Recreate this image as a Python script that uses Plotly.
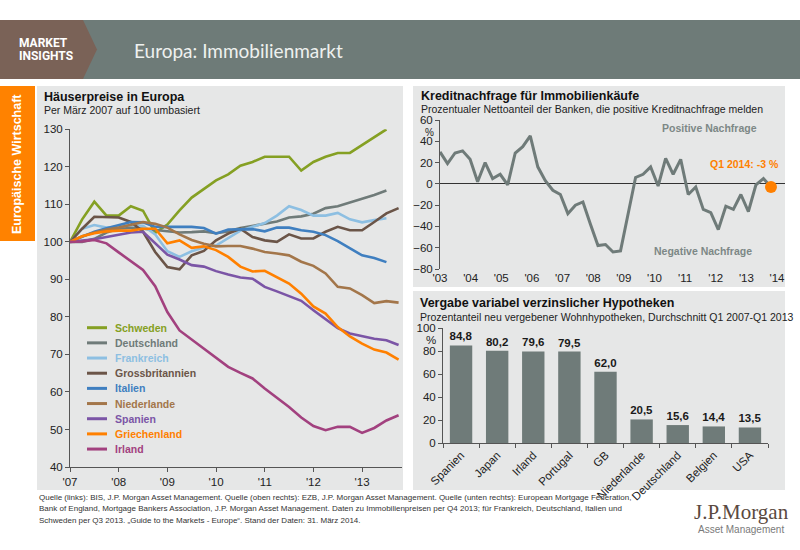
import plotly.graph_objects as go

W, H = 800, 550
def X(px): return px / W
def Y(py): return 1 - py / H

FONT = "Liberation Sans"

# ---------------- Data: Häuserpreise (quarterly, Q1 2007 = 100) ----------------
hp_start_year = 2007
series_names = ["Schweden", "Deutschland", "Frankreich", "Grossbritannien", "Italien",
                "Niederlande", "Spanien", "Griechenland", "Irland"]
series_colors = ["#85a023", "#6f7b79", "#8dbfe2", "#6b5548", "#3f7fc0",
                 "#a3764a", "#7b55a6", "#ff8000", "#a2417f"]

schweden = [100, 106, 110.7, 107, 107, 109.5, 108.3, 102.4, 104.6, 108.4, 111.8, 114.2, 116.4,
            118, 120.3, 121.3, 122.7, 122.7, 122.7, 119, 121.3, 122.7, 123.7, 123.7, 125.8, 128, 130]
deutschland = [100, 100, 100.8, 102.5, 103.5, 103.8, 103.5, 103.2, 103.0, 102.5, 102.6, 102.8,
               102.3, 102.8, 103.7, 104.3, 105, 105.4, 106.5, 106.8, 107.5, 109, 109.5, 110.5,
               111.3, 112.5, 113.7]
frankreich = [100, 103.5, 104.5, 103.8, 104, 104.5, 104.3, 102, 97.5, 96, 97.5, 98.5, 99, 101,
              103, 104, 105, 107, 109.5, 108.5, 107, 107, 107.7, 106, 105.2, 105.8, 106.3]
grossbritannien = [100, 103.5, 106.7, 106.5, 106.5, 105.3, 102.7, 97.3, 93.3, 92.7, 96.4, 97.6,
                   100.4, 102.2, 103.5, 101.3, 100.4, 100, 102, 100.9, 100.9, 102.7, 104, 103.1,
                   103.1, 105.3, 107.6, 109]
italien = [100, 101.3, 102.7, 103.6, 104.4, 105.3, 105.2, 104, 104, 104, 104, 103.7, 102.2,
           103.3, 103.4, 103.4, 102.8, 103.8, 103.8, 103.1, 102.7, 101.8, 100.2, 98.2, 96.4,
           95.7, 94.6]
niederlande = [100, 101.5, 102.5, 103.3, 103.8, 104.5, 105.3, 104.8, 103.8, 102, 100.5, 99.5,
               98.8, 98.9, 98.9, 98.2, 97.3, 96.9, 96.4, 94.7, 93.6, 91.6, 88, 87.6, 85.8, 83.7,
               84.2, 83.8]
spanien = [100, 100.3, 100.7, 101.3, 101.8, 102.5, 102.7, 99.6, 96.6, 95.3, 93.8, 93.4, 92.2,
           91.3, 90.5, 90.2, 88, 86.8, 85.6, 84.3, 81.8, 79.3, 77, 75.6, 74.9, 74.2, 73.8, 72.5]
griechenland = [100, 101.5, 102.3, 102.8, 103, 103, 103.5, 103.5, 99.6, 100.4, 98.4, 98.8, 97.8,
                96, 93.4, 92.1, 92.3, 90.7, 88.9, 86.2, 82.8, 80.9, 77.3, 74.8, 72.9, 71.3,
                70.5, 68.6]
irland = [100, 100.1, 100.5, 99.6, 97.2, 94.8, 92.5, 88.2, 81.3, 76.4, 74, 71.6, 69.3, 66.7,
          65.1, 63.6, 60.9, 58.5, 56, 53.2, 50.9, 49.8, 50.7, 50.7, 49.1, 50.4, 52.4, 53.8]
series_values = [schweden, deutschland, frankreich, grossbritannien, italien,
                 niederlande, spanien, griechenland, irland]
hp_tick_years = [2007, 2008, 2009, 2010, 2011, 2012, 2013]
hp_tick_labels = ["'07", "'08", "'09", "'10", "'11", "'12", "'13"]

# ---------------- Data: Kreditnachfrage (quarterly) ----------------
kn_start_year = 2003
kredit = [30, 19, 29, 31, 23, 2, 20, 5, 9, -1, 29, 35, 45, 16, 3, -6, -10, -28, -20, -17,
          -38, -58, -57, -64, -63, -28, 6, 9, 16, -2, 24, 9, 23, -10, -3, -24, -27, -43, -21,
          -24, -10, -26, -1, 5, -3]
kn_tick_years = list(range(2003, 2015))
kn_tick_labels = ["'03", "'04", "'05", "'06", "'07", "'08", "'09", "'10", "'11", "'12", "'13", "'14"]

# ---------------- Data: variabel verzinsliche Hypotheken ----------------
hyp_countries = ["Spanien", "Japan", "Irland", "Portugal", "GB", "Niederlande",
                 "Deutschland", "Belgien", "USA"]
hyp_values = [84.8, 80.2, 79.6, 79.5, 62.0, 20.5, 15.6, 14.4, 13.5]

# ---------------- Figure ----------------
fig = go.Figure()

for name, color, vals in zip(series_names, series_colors, series_values):
    xs = [hp_start_year + i / 4 for i in range(len(vals))]
    fig.add_trace(go.Scatter(x=xs, y=vals, mode="lines", name=name,
                             line=dict(color=color, width=2.6),
                             xaxis="x", yaxis="y", showlegend=False, hoverinfo="skip"))

kx = [kn_start_year + i * 0.2455 for i in range(len(kredit))]
fig.add_trace(go.Scatter(x=kx, y=kredit, mode="lines",
                         line=dict(color="#6f7b79", width=3),
                         xaxis="x2", yaxis="y2", showlegend=False))
fig.add_trace(go.Scatter(x=[kx[-1]], y=[kredit[-1]], mode="markers",
                         marker=dict(color="#ff8000", size=12),
                         xaxis="x2", yaxis="y2", showlegend=False))

fig.add_trace(go.Bar(x=hyp_countries, y=hyp_values,
                     text=["<b>" + f"{v:.1f}".replace(".", ",") + "</b>" for v in hyp_values],
                     textposition="outside", cliponaxis=False, constraintext="none",
                     textfont=dict(family=FONT, size=11.5, color="#1a1a1a"),
                     marker=dict(color="#6f7b79", line=dict(width=0)),
                     xaxis="x3", yaxis="y3", showlegend=False))

tickfont = dict(family=FONT, size=11.5, color="#222222")
axis_common = dict(showgrid=False, zeroline=False, showline=True, linecolor="#555555",
                   linewidth=1, ticks="outside", ticklen=4, tickcolor="#555555",
                   tickfont=tickfont, fixedrange=True, automargin=False)

shapes = []
shapes.append(dict(type="rect", xref="paper", yref="paper", x0=X(0), x1=X(800), y0=Y(79), y1=Y(20),
                   fillcolor="#6e7b78", line=dict(width=0), layer="below"))
shapes.append(dict(type="path", xref="paper", yref="paper",
                   path=f"M {X(0)},{Y(20)} L {X(83)},{Y(20)} L {X(97)},{Y(49.5)} L {X(83)},{Y(79)} L {X(0)},{Y(79)} Z",
                   fillcolor="#7a6257", line=dict(width=0), layer="below"))
shapes.append(dict(type="rect", xref="paper", yref="paper", x0=X(0), x1=X(35), y0=Y(241), y1=Y(86),
                   fillcolor="#ff8200", line=dict(width=0), layer="below"))
panel_fill = "#e6e7e7"
for (x0, x1, y0, y1) in [(37, 403, 86, 490), (413, 785, 86, 287), (413, 785, 291, 490)]:
    shapes.append(dict(type="rect", xref="paper", yref="paper", x0=X(x0), x1=X(x1), y0=Y(y1), y1=Y(y0),
                       fillcolor=panel_fill, line=dict(width=0), layer="below"))

annotations = []
def txt(x, y, text, size=12, color="#000000", bold=False, xanchor="left", family=FONT, textangle=0):
    t = f"<b>{text}</b>" if bold else text
    annotations.append(dict(x=X(x), y=Y(y), xref="paper", yref="paper", text=t, showarrow=False,
                            xanchor=xanchor, yanchor="middle", textangle=textangle,
                            font=dict(family=family, size=size, color=color)))

txt(17, 43, "MARKET", 12, "#ffffff", True, family="Roboto")
txt(17, 56, "INSIGHTS", 12, "#ffffff", True, family="Roboto")
txt(132, 50, "Europa: Immobilienmarkt", 19, "#eef1ef", family="Lato")
txt(17, 164, "Europäische Wirtschaft", 12.5, "#ffffff", True, xanchor="center", textangle=-90)

txt(42, 97, "Häuserpreise in Europa", 12.5, "#111111", True)
txt(42, 110, "Per März 2007 auf 100 umbasiert", 10.5, "#222222")
txt(419, 96, "Kreditnachfrage für Immobilienkäufe", 12.5, "#111111", True)
txt(419, 109, "Prozentualer Nettoanteil der Banken, die positive Kreditnachfrage melden", 10.5, "#222222")
txt(418, 303, "Vergabe variabel verzinslicher Hypotheken", 12.5, "#111111", True)
txt(418, 317, "Prozentanteil neu vergebener Wohnhypotheken, Durchschnitt Q1 2007-Q1 2013", 10.5, "#222222")

txt(429, 132.5, "%", 10, "#222222", xanchor="center")
txt(709, 128, "Positive Nachfrage", 10.5, "#7d8886", True, xanchor="center")
txt(703, 251, "Negative Nachfrage", 10.5, "#7d8886", True, xanchor="center")
txt(781, 164, "Q1 2014: -3 %", 10.5, "#ff8000", True, xanchor="right")
txt(431, 340, "%", 11.5, "#222222", xanchor="center")

for k, (name, color) in enumerate(zip(series_names, series_colors)):
    yy = 327.7 + k * 15.17
    shapes.append(dict(type="line", xref="paper", yref="paper", x0=X(87), x1=X(107), y0=Y(yy), y1=Y(yy),
                       line=dict(color=color, width=3)))
    txt(113, yy, name, 10.5, color, True)

footer = [
    "Quelle (links): BIS, J.P. Morgan Asset Management. Quelle (oben rechts): EZB, J.P. Morgan Asset Management. Quelle (unten rechts): European Mortgage Federation,",
    "Bank of England, Mortgage Bankers Association, J.P. Morgan Asset Management. Daten zu Immobilienpreisen per Q4 2013; für Frankreich, Deutschland, Italien und",
    "Schweden per Q3 2013. „Guide to the Markets - Europe“. Stand der Daten: 31. März 2014.",
]
for i, line in enumerate(footer):
    txt(37, 497 + i * 11.5, line, 8, "#333333")
txt(741, 512, "J.P.Morgan", 21, "#5a4940", xanchor="center", family="Liberation Serif")
txt(741, 529, "Asset Management", 10, "#7a7a7a", xanchor="center")

fig.update_layout(
    width=W, height=H, margin=dict(l=0, r=0, t=0, b=0, pad=0, autoexpand=False),
    paper_bgcolor="#ffffff", plot_bgcolor="rgba(0,0,0,0)",
    showlegend=False, bargap=0.38,
    xaxis=dict(**axis_common, domain=[X(70), X(402)], range=[2007, 2013.82],
               tickvals=hp_tick_years, ticktext=hp_tick_labels, anchor="y"),
    yaxis=dict(**axis_common, domain=[Y(467), Y(129.3)], range=[40, 130], dtick=10, anchor="x"),
    xaxis2=dict(showgrid=False, zeroline=False, showline=False, ticks="", tickfont=tickfont,
                domain=[X(440), X(785)], range=[2003, 2014.26], automargin=False,
                tickvals=kn_tick_years, ticktext=kn_tick_labels, anchor="y2", fixedrange=True),
    yaxis2=dict(**{**axis_common, "zeroline": True}, zerolinecolor="#333333", zerolinewidth=1,
                domain=[Y(269), Y(120)], range=[-80, 60], dtick=20, anchor="x2"),
    xaxis3=dict(**axis_common, domain=[X(443), X(768)], range=[-0.5, 8.5], tickangle=-45,
                tickson="boundaries", anchor="y3", type="category"),
    yaxis3=dict(**axis_common, domain=[Y(443), Y(328)], range=[0, 100], dtick=20, anchor="x3"),
    shapes=shapes, annotations=annotations,
)

fig.write_html("out.html", config={"displayModeBar": False},
               post_script="document.body.style.margin='0';document.body.style.overflow='hidden';")
